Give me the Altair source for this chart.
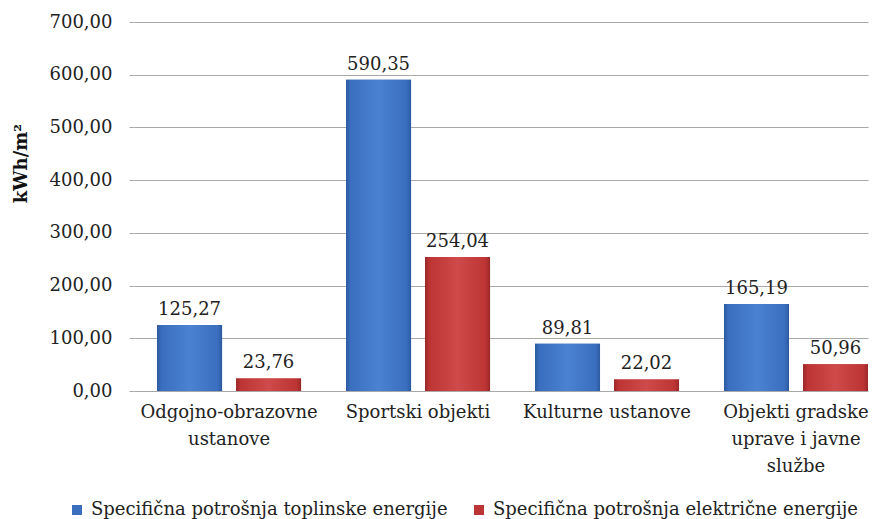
import altair as alt
import pandas as pd

categories = ["Odgojno-obrazovne|ustanove", "Sportski objekti", "Kulturne ustanove",
              "Objekti gradske|uprave i javne|službe"]
series = ["Specifična potrošnja toplinske energije", "Specifična potrošnja električne energije"]
toplinska = [125.27, 590.35, 89.81, 165.19]
elektricna = [23.76, 254.04, 22.02, 50.96]
colors = ["#3a6ebf", "#bd3434"]
dark = ["#2c5a9e", "#9a2828"]
light = ["#4b82d2", "#cf4a4a"]

rows = []
for i, c in enumerate(categories):
    rows.append({"kat": c, "serija": series[0], "v": toplinska[i]})
    rows.append({"kat": c, "serija": series[1], "v": elektricna[i]})
df = pd.DataFrame(rows)

FONT = "DejaVu Serif"
FS = 18

x = alt.X("kat:N", sort=categories, title=None,
          scale=alt.Scale(paddingInner=0.238, paddingOuter=0.061, align=1),
          axis=alt.Axis(labelExpr="split(datum.label, '|')", labelAngle=0, labelFont=FONT,
                        labelFontSize=FS, labelColor="#222", labelLineHeight=27,
                        ticks=False, domain=False, labelPadding=12))
xo = alt.XOffset("serija:N", sort=series, scale=alt.Scale(paddingInner=0.177, paddingOuter=0))
yax = alt.Axis(values=[0, 100, 200, 300, 400, 500, 600, 700],
               labelExpr="replace(format(datum.value, '.2f'), '.', ',')",
               labelFont=FONT, labelFontSize=FS, labelColor="#222",
               titleFont=FONT, titleFontSize=18, titleFontWeight="bold",
               titleColor="#111", titleX=-113, titleY=141, titleAngle=-90,
               titleAlign="center", titleBaseline="middle",
               gridColor="#a8a8a8", domain=False, tickColor="#a8a8a8",
               tickSize=5, labelPadding=17)
y = alt.Y("v:Q", title="kWh/m²", scale=alt.Scale(domain=[0, 700]), axis=yax)

base = alt.Chart(df)
bars = base.mark_bar().encode(
    x=x, xOffset=xo, y=y,
    color=alt.Color("serija:N", sort=series, title=None,
                    scale=alt.Scale(domain=series, range=colors),
                    legend=alt.Legend(orient="none", legendX=-66, legendY=479,
                                      direction="horizontal",
                                      symbolType="square", symbolSize=100,
                                      labelFont=FONT, labelFontSize=18, labelColor="#222",
                                      columnPadding=22, labelLimit=450, labelOffset=5,
                                      symbolStrokeWidth=0)),
)

overlays = []
for s, c, d, l in zip(series, colors, dark, light):
    grad = alt.Gradient(gradient="linear", x1=0, x2=1, y1=0, y2=0,
                        stops=[alt.GradientStop(offset=0, color=d),
                               alt.GradientStop(offset=0.07, color=c),
                               alt.GradientStop(offset=0.5, color=l),
                               alt.GradientStop(offset=0.93, color=c),
                               alt.GradientStop(offset=1, color=d)])
    overlays.append(base.transform_filter(alt.datum.serija == s)
                    .mark_bar(color=grad).encode(x=x, xOffset=xo, y=y))

labels = base.mark_text(dy=-15, baseline="middle", font=FONT, fontSize=FS, color="#222").encode(
    x=x, xOffset=xo, y="v:Q",
    text=alt.Text("lbl:N"),
).transform_calculate(lbl="replace(format(datum.v, '.2f'), '.', ',')")

chart = alt.layer(bars, *overlays, labels).properties(
    width=734, height=369,
    padding={"left": 4, "right": 0, "top": 5, "bottom": 0},
).configure_view(stroke=None)
chart.save("out.html", embed_options={"renderer": "svg", "actions": False})
